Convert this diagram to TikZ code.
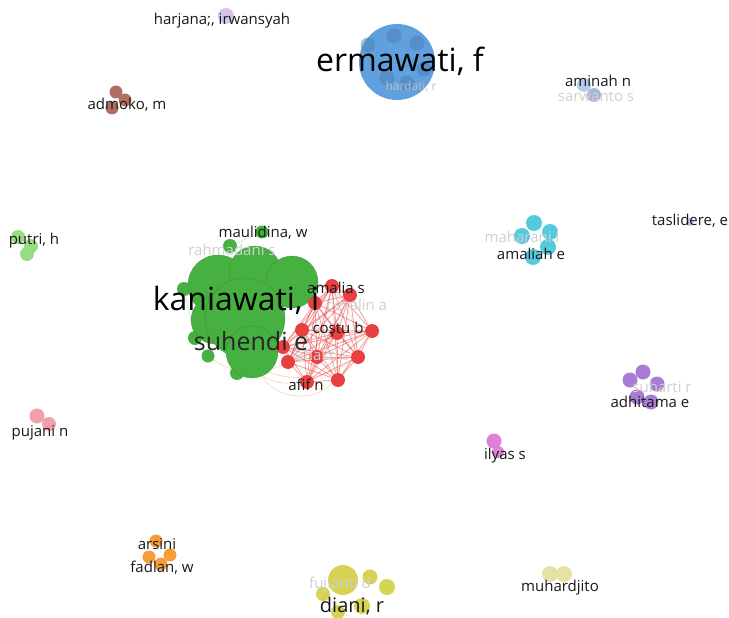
\documentclass[tikz,border=0pt]{standalone}
\usepackage{fontspec}
\setmainfont{Open Sans}
\usetikzlibrary{positioning}
\definecolor{vblue}{RGB}{96,160,222}
\definecolor{vgreen}{RGB}{70,176,64}
\definecolor{vred}{RGB}{232,64,64}
\definecolor{vcyan}{RGB}{84,202,220}
\definecolor{vpurple}{RGB}{168,124,214}
\definecolor{vbrown}{RGB}{176,112,96}
\definecolor{vlblue}{RGB}{184,202,236}
\definecolor{vlgreen}{RGB}{150,220,128}
\definecolor{vpink}{RGB}{240,160,168}
\definecolor{vmagenta}{RGB}{222,128,214}
\definecolor{vorange}{RGB}{246,156,56}
\definecolor{vyellow}{RGB}{214,210,84}
\definecolor{vlyellow}{RGB}{228,226,166}
\definecolor{vlilac}{RGB}{216,196,232}
\pgfdeclarelayer{background}
\pgfdeclarelayer{edges}
\pgfsetlayers{background,edges,main}

\begin{document}
\begin{tikzpicture}[x=1pt, y=-1pt,
    bub/.style={circle, inner sep=0pt, minimum size=#1},
    lbl/.style={font=\fontsize{15}{17}\selectfont, inner sep=0pt, text=black!90},
    faint/.style={font=\fontsize{15}{17}\selectfont, inner sep=0pt, text=black!18},
    redge/.style={draw=vred, line width=0.8pt, opacity=0.5},
    oedge/.style={draw=vorange!60!vred, line width=0.6pt, opacity=0.35}]
  \begin{pgfonlayer}{background}
    \fill[white] (0,0) rectangle (729,618);
  \end{pgfonlayer}
  \useasboundingbox (0,0) rectangle (729,618);

  % blue cluster
  \node[bub=76, fill=vblue] (erm) at (397,62) {};
  \foreach \n/\x/\y in {b1/394/36, b2/417/43, b3/368/45, b4/387/78, b5/407/83, b6/424/69}
    \node[bub=15, fill=vblue!80!black, opacity=0.5] (\n) at (\x,\y) {};
  \node[faint, font=\fontsize{12}{14}\selectfont, text=black!25] (lhardati) at (411,87) {hardati, r};
  \node[font=\fontsize{32}{36}\selectfont, inner sep=0pt] (lerm) at (400,61) {ermawati, f};

  % small groups
  \node[bub=16, fill=vlilac] (har) at (226,16) {};
  \node[lbl] (lhar) at (222,21) {harjana;, irwansyah};

  \foreach \n/\x/\y in {m1/116/92, m2/125/100, m3/112/108}
    \node[bub=13, fill=vbrown] (\n) at (\x,\y) {};
  \node[lbl] (ladm) at (127,105) {admoko, m};

  \node[bub=14, fill=vlblue] (a1) at (584,85) {};
  \node[bub=14, fill=vlblue!90!black] (a2) at (594,95) {};
  \node[faint] (lsar) at (596,97) {sarwanto s};
  \node[lbl] (lami) at (598,81) {aminah n};

  \foreach \n/\x/\y in {p1/18/237, p2/31/246, p3/27/254}
    \node[bub=14, fill=vlgreen] (\n) at (\x,\y) {};
  \node[lbl] (lput) at (34,241) {putri, h};

  \node[bub=8, fill=vlblue] (tas) at (690,222) {};
  \node[lbl] (ltas) at (690,221) {taslidere, e};

  \foreach \n/\x/\y in {c1/534/223, c2/550/232, c3/522/236, c4/548/247, c5/533/257}
    \node[bub=16, fill=vcyan] (\n) at (\x,\y) {};
  \node[faint] (lmah) at (522,237) {maharani l};
  \node[lbl] (lama) at (531,254) {amaliah e};

  \foreach \n/\x/\y in {u1/643/372, u2/630/380, u3/657/384, u4/637/397, u5/651/402}
    \node[bub=15, fill=vpurple] (\n) at (\x,\y) {};
  \node[faint] (lsuh) at (662,387) {suharti r};
  \node[lbl] (ladh) at (650,402) {adhitama e};

  \node[bub=15, fill=vpink] (n1) at (37,416) {};
  \node[bub=14, fill=vpink] (n2) at (49,424) {};
  \node[lbl] (lpuj) at (40,433) {pujani n};

  \node[bub=15, fill=vmagenta] (i1) at (494,441) {};
  \node[bub=12, fill=vmagenta] (i2) at (498,452) {};
  \node[lbl] (lily) at (505,456) {ilyas s};

  \foreach \n/\x/\y in {o1/156/541, o2/149/557, o3/170/555, o4/161/564}
    \node[bub=13, fill=vorange] (\n) at (\x,\y) {};
  \node[lbl] (lars) at (157,544) {arsini};
  \node[lbl] (lfad) at (162,568) {fadlan, w};

  \node[bub=30, fill=vyellow] (y1) at (343,580) {};
  \foreach \n/\x/\y/\d in {y2/370/577/15, y3/387/587/16, y4/323/594/14, y5/362/606/16, y6/338/612/14}
    \node[bub=\d, fill=vyellow] (\n) at (\x,\y) {};
  \node[faint] (lfuj) at (340,585) {fujianti d};
  \node[lbl, font=\fontsize{20}{22}\selectfont] (ldia) at (352,606) {diani, r};

  \node[bub=16, fill=vlyellow] (h1) at (550,574) {};
  \node[bub=16, fill=vlyellow] (h2) at (564,574) {};
  \node[lbl] (lmuh) at (560,588) {muhardjito};

  % green cluster
  \foreach \n/\x/\y/\d in {s1/230/246/14, s2/262/232/13, s3/184/289/14, s4/195/338/14,
                           s5/208/356/13, s6/237/373/14}
    \node[bub=\d, fill=vgreen] (\n) at (\x,\y) {};
  \foreach \n/\x/\y/\d in {g1/218/285/60, g2/255/272/52, g3/292/282/52, g6/215/320/48,
                           g4/245/318/80, g5/252/352/52}
    \node[bub=\d, fill=vgreen, draw=vgreen!75!black, draw opacity=0.5, line width=0.5pt] (\n) at (\x,\y) {};

  % red cluster
  \foreach \n/\x/\y in {r1/332/286, r2/350/295, r3/315/303, r4/302/330, r5/337/333,
                        r6/372/331, r7/283/347, r8/288/362, r9/317/357, r10/358/357,
                        r11/307/382, r12/338/380}
    \node[bub=14, fill=vred] (\n) at (\x,\y) {};

  \begin{pgfonlayer}{edges}
    \foreach \a [evaluate=\a as \nx using int(\a+1)] in {1,...,11}
      \foreach \b in {\nx,...,12}
        \draw[redge] (r\a) -- (r\b);
    \draw[oedge] (r11) to[bend left=40] (g4);
    \draw[oedge] (r12) to[bend left=50] (g5);
    \draw[oedge] (r10) to[bend left=45] (g6);
    \draw[oedge] (r8) to[bend left=30] (s5);
    \draw[oedge] (r12) to[bend right=60] (g3);
    \draw[draw=vgreen, opacity=0.4] (s1) -- (s2);
    \draw[draw=vgreen, opacity=0.4] (s3) -- (s4);
    \draw[draw=vgreen, opacity=0.4] (s4) -- (s5);
  \end{pgfonlayer}

  % labels on top
  \node[faint] (lrah) at (232,250) {rahmadani s};
  \node[lbl] (lmau) at (263,233) {maulidina, w};
  \node[faint] (lces) at (357,305) {cesalin a};
  \node[faint] (lbha) at (322,355) {bhakti s};
  \node[lbl] (lamalia) at (336,288) {amalia s};
  \node[lbl] (lcos) at (338,330) {coştu b};
  \node[lbl] (lafi) at (306,385) {afif n};
  \node[font=\fontsize{32}{36}\selectfont, inner sep=0pt] (lkan) at (236,300) {kaniawati, i};
  \node[font=\fontsize{25}{28}\selectfont, inner sep=0pt, text=black!85] (lsuhendi) at (251,341) {suhendi e};
\end{tikzpicture}
\end{document}
